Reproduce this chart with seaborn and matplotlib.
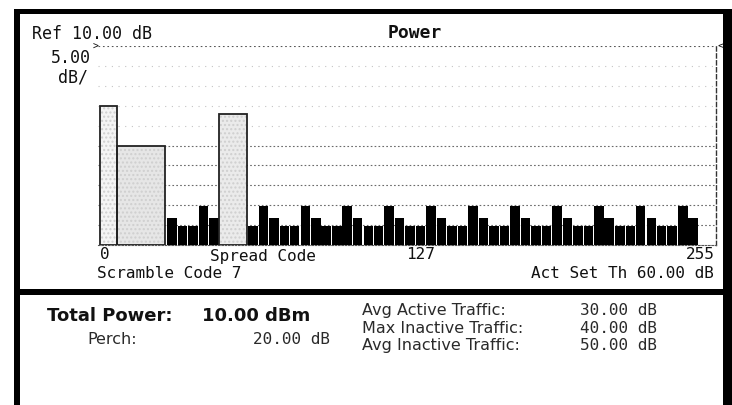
import pandas as pd
import matplotlib
matplotlib.use("Agg")
import matplotlib.pyplot as plt
from matplotlib.patches import Rectangle
import seaborn as sns

# ----------------------------
# Data
# ----------------------------
ref_level = 10.0        # dB at the top line
db_per_div = 5.0
n_div = 10
floor_level = ref_level - db_per_div * n_div   # -40 dB

# active channels: start code, width in codes, level in dB
active_start = [1.0, 8.0, 50.5]
active_width = [7.0, 20.0, 11.5]
active_level = [-5.1, -15.1, -7.1]

# inactive spread codes (black bars), bar centre in codes
inactive_code = [30.8, 35.2, 39.5, 43.9, 48.2,
                 64.4, 68.8, 73.1, 77.5, 81.8, 86.2, 90.6, 94.9, 99.3, 103.6,
                 108.0, 112.4, 116.7, 121.1, 125.4, 129.8, 134.2, 138.5, 142.9, 147.2,
                 151.6, 156.0, 160.3, 164.7, 169.0, 173.4, 177.8, 182.1, 186.5, 190.8,
                 195.2, 199.6, 203.9, 208.3, 212.6, 217.0, 221.4, 225.7, 230.1, 234.4,
                 238.8, 243.2, 247.5]
inactive_level = [-33.2, -35.2, -35.2, -30.2, -33.2,
                  -35.2, -30.2, -33.2, -35.2, -35.2, -30.2, -33.2, -35.2, -35.2, -30.2,
                  -33.2, -35.2, -35.2, -30.2, -33.2, -35.2, -35.2, -30.2, -33.2, -35.2,
                  -35.2, -30.2, -33.2, -35.2, -35.2, -30.2, -33.2, -35.2, -35.2, -30.2,
                  -33.2, -35.2, -35.2, -30.2, -33.2, -35.2, -35.2, -30.2, -33.2, -35.2,
                  -35.2, -30.2, -33.2]

xtick_codes = [0, 127, 255]
xtick_labels = ["0", "127", "255"]

summary_left_labels = ["Total Power:", "Perch:"]
summary_left_values = ["10.00 dBm", "20.00 dB"]
summary_right_labels = ["Avg Active Traffic:", "Max Inactive Traffic:", "Avg Inactive Traffic:"]
summary_right_values = ["30.00 dB", "40.00 dB", "50.00 dB"]

df = pd.DataFrame({"code": inactive_code, "level": inactive_level})
df["height"] = df["level"] - floor_level

# ----------------------------
# Figure
# ----------------------------
sns.set_style("white")
W, H = 732, 406
fig = plt.figure(figsize=(W / 100, H / 100), dpi=100)


def fx(px):
    return px / W


def fy(py):
    return 1 - py / H


ax = fig.add_axes([fx(98), fy(246), fx(716) - fx(98), fy(47) - fy(246)])

# graticule: faint in the upper half, clearer near the floor
for i in range(1, n_div + 1):
    lvl = i * db_per_div
    if i == n_div:
        col, dash = "#555555", (0, (1.5, 2.5))
    elif i >= 6:
        col, dash = "#c4c4c4", (0, (1, 5))
    else:
        col, dash = "#6a6a6a", (0, (1.5, 2.0))
    ax.axhline(lvl, color=col, lw=0.8, ls=dash, zorder=0)

# inactive codes
sns.barplot(data=df, x="code", y="height", native_scale=True, color="black",
            saturation=1, width=0.92, linewidth=0, ax=ax, zorder=3)

# active channels
act_heights = [lv - floor_level for lv in active_level]
fills = ["#f4f4f4", "#e6e6e6", "#ebebeb"]
ax.bar(active_start, act_heights, width=active_width, align="edge",
       color=fills, hatch="....", edgecolor="#cfcfcf", linewidth=0, zorder=2)
ax.bar(active_start, act_heights, width=active_width, align="edge",
       fill=False, edgecolor="#222222", linewidth=1.3, zorder=4)

ax.set_xlim(0, 257)
ax.set_ylim(0, ref_level - floor_level)
ax.set_xticks([])
ax.set_yticks([])
ax.set_xlabel("")
ax.set_ylabel("")
for s in ["left", "top"]:
    ax.spines[s].set_visible(False)
ax.spines["right"].set_linestyle((0, (3, 2)))
ax.spines["right"].set_color("#333333")
ax.spines["right"].set_linewidth(1)
ax.spines["bottom"].set_linestyle((0, (1.5, 1.5)))
ax.spines["bottom"].set_color("#555555")
ax.spines["bottom"].set_linewidth(0.8)

mono = "DejaVu Sans Mono"
ink = "#111111"

# x-axis code labels
trans = matplotlib.transforms.blended_transform_factory(ax.transData, ax.transAxes)
has = ["left", "left", "right"]
for c, lab, ha in zip(xtick_codes, xtick_labels, has):
    ax.text(c + (1 if ha == "left" else 1.5), -0.045, lab, transform=trans, ha=ha,
            va="center", fontsize=11.5, family=mono, color=ink)

# reference markers
ax.text(-1.0, 1.0, ">", transform=trans, ha="center", va="center",
        fontsize=7, family=mono, color=ink)
ax.text(257.5, 1.0, "<", transform=trans, ha="left", va="center",
        fontsize=8, family=mono, color=ink)

# header text
fig.text(fx(32), fy(34), "Ref 10.00 dB", ha="left", va="center",
         fontsize=12, family=mono, color=ink)
fig.text(fx(415), fy(33), "Power", ha="center", va="center",
         fontsize=13, family=mono, fontweight="bold", color=ink)
fig.text(fx(91), fy(58), "5.00", ha="right", va="center",
         fontsize=12, family=mono, color=ink)
fig.text(fx(88), fy(78), "dB/", ha="right", va="center",
         fontsize=12, family=mono, color=ink)
fig.text(fx(210), fy(256), "Spread Code", ha="left", va="center",
         fontsize=11.5, family=mono, color=ink)
fig.text(fx(97), fy(273), "Scramble Code 7", ha="left", va="center",
         fontsize=11.5, family=mono, color=ink)
fig.text(fx(714), fy(273), "Act Set Th 60.00 dB", ha="right", va="center",
         fontsize=11.5, family=mono, color=ink)

# summary panel
fig.text(fx(47), fy(316), summary_left_labels[0], ha="left", va="center",
         fontsize=13, fontweight="bold", family="DejaVu Sans", color=ink)
fig.text(fx(202), fy(316), summary_left_values[0], ha="left", va="center",
         fontsize=13, fontweight="bold", family="DejaVu Sans", color=ink)
fig.text(fx(87), fy(339), summary_left_labels[1], ha="left", va="center",
         fontsize=11.5, family="DejaVu Sans", color="#2a2a2a")
fig.text(fx(330), fy(339), summary_left_values[1], ha="right", va="center",
         fontsize=11.5, family=mono, color="#2a2a2a")
for i, (lab, val) in enumerate(zip(summary_right_labels, summary_right_values)):
    y = 311 + 17.5 * i
    fig.text(fx(362), fy(y), lab, ha="left", va="center",
             fontsize=11.5, family="DejaVu Sans", color="#2a2a2a")
    fig.text(fx(580), fy(y), val, ha="left", va="center",
             fontsize=11.5, family=mono, color="#2a2a2a")

# instrument frame
for x0, y0, w, h in [(14, 10, 6, 396), (14, 10, 718, 5), (723, 10, 9, 396), (14, 290, 718, 6)]:
    fig.add_artist(Rectangle((fx(x0), fy(y0 + h)), w / W, h / H, transform=fig.transFigure,
                             color="black", lw=0))

fig.savefig("out.png", dpi=100)
